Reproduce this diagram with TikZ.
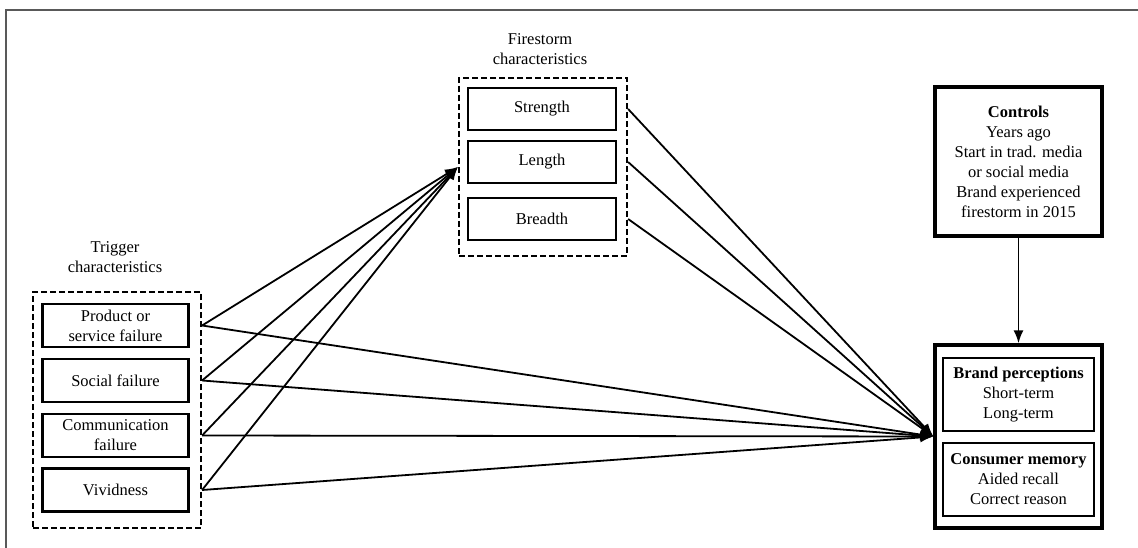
\documentclass[tikz,border=0pt]{standalone}
\usepackage{fontspec}
\setmainfont{Liberation Serif}
\usetikzlibrary{arrows.meta}
\begin{document}
\begin{tikzpicture}[x=1pt,y=-1pt,font=\fontsize{16.5}{20}\selectfont]
\tikzset{inbox/.style={draw, line width=2.8pt, align=center, inner sep=0pt,
    minimum width=146pt, minimum height=43pt}}
\tikzset{group/.style={draw, line width=2.2pt, dash pattern=on 6pt off 3pt,
    inner sep=0pt}}
\tikzset{conn/.style={line width=1.8pt, -{Latex[length=13pt,width=10pt]}}}
\useasboundingbox (0,0) rectangle (1138,548);
% the frame
\draw[line width=1.6pt, black!65] (6,548) -- (6,10) -- (1138,10);
% Trigger characteristics
\node[group, minimum width=168pt, minimum height=236pt] (tg) at (117,410) {};
\node[align=center] (tlabel) at (115,257) {Trigger\\characteristics};
\foreach \n/\y/\t in {t1/325.5/{Product or\\service failure}, t2/380.5/{Social failure},
    t3/435.5/{Communication\\failure}, t4/490/{Vividness}} {
\node[inbox] (\n) at (115.5,\y) {\t};
}
% Firestorm characteristics
\node[group, minimum width=168pt, minimum height=178pt] (fg) at (543,167) {};
\node[align=center] (flabel) at (540,49) {Firestorm\\characteristics};
\foreach \n/\y/\t in {f1/109/Strength, f2/162/Length, f3/219/Breadth} {
\node[inbox, minimum width=148pt, minimum height=42pt] (\n) at (542,\y) {\t};
}
% Controls
\node[draw, line width=3.2pt, align=center, minimum width=167pt, minimum height=149pt]
  (ctrl) at (1018.5,161.5) {\textbf{Controls}\\Years ago\\Start in trad. media\\or social media\\Brand experienced\\firestorm in 2015};
% Outcomes
\node[draw, line width=3.4pt, minimum width=167pt, minimum height=183pt] (out) at (1018.5,436.5) {};
\node[draw, line width=1.7pt, align=center, minimum width=151pt, minimum height=73pt]
  (bp) at (1018.5,394.5) {\textbf{Brand perceptions}\\Short-term\\Long-term};
\node[draw, line width=1.7pt, align=center, minimum width=151pt, minimum height=73pt]
  (cm) at (1018.5,479.5) {\textbf{Consumer memory}\\Aided recall\\Correct reason};
% the arrows
\foreach \n in {t1,t2,t3,t4} {
\draw[conn] (\n -| tg.east) -- (fg.west);
\draw[conn] (\n -| tg.east) -- (out.west);
}
\foreach \n in {f1,f2,f3} {
\draw[conn] (\n -| fg.east) -- (out.west);
}
\draw[conn] (ctrl) -- (out);
\end{tikzpicture}
\end{document}
